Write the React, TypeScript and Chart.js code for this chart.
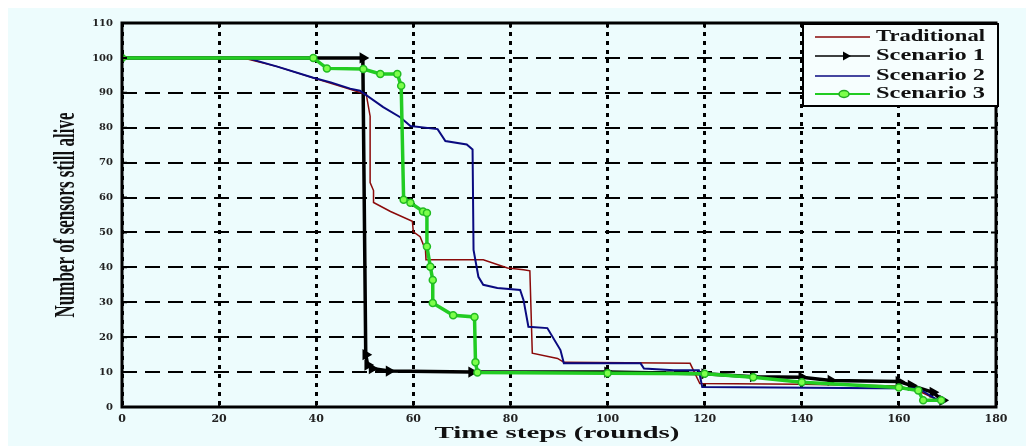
import React, { useEffect, useRef } from "react";
import { Chart, registerables } from "chart.js";

Chart.register(...registerables);

// ---- Data ----
const seriesNames = ["Traditional", "Scenario 1", "Scenario 2", "Scenario 3"];

const traditionalT = [0, 25, 32, 40, 47, 50.3, 50.4, 51.1, 51.1, 51.8, 51.8, 55.3, 59.8, 60, 61.4, 62.5, 62.6, 74.4, 79.4, 82.7, 84, 84.5, 89.7, 91, 117, 119, 140, 160, 165, 168];
const traditionalV = [100, 100, 97.5, 94, 91, 89.5, 88.8, 83.3, 64.3, 62, 58.6, 56, 53.2, 50.2, 48.8, 45, 42.2, 42.2, 39.8, 39.3, 39, 15.4, 13.9, 12.8, 12.5, 6.7, 6.5, 6, 4, 2];

const scenario1T = [0, 49.6, 50.2, 50.6, 51.5, 55, 72, 100, 120, 130, 140, 146, 160, 162.5, 167, 169];
const scenario1V = [100, 100, 15, 12, 11, 10.3, 10, 10, 9.5, 8.7, 8.5, 7.6, 7.3, 6.2, 4.2, 1.9];

const scenario2T = [0, 25.7, 32, 39.4, 43, 47, 49, 53.8, 57.3, 59.4, 65, 66.6, 71, 72.2, 72.4, 73.4, 74.4, 77.3, 82, 82.7, 83.7, 87.6, 90.3, 91, 106.8, 107.5, 113.6, 118.8, 119.5, 164, 168];
const scenario2V = [100, 100, 97.5, 94.3, 93, 91.2, 90.6, 85.9, 83, 80.5, 79.6, 76.2, 75.2, 73.8, 45, 37.3, 35, 34.1, 33.5, 30.6, 23, 22.6, 16.3, 12.5, 12.5, 11, 10.5, 10.5, 5.7, 5.3, 2];

const scenario3T = [0, 39.4, 42.2, 49.7, 53.2, 56.7, 57.5, 58, 59.4, 62, 62.8, 62.8, 63.5, 64, 64, 68.2, 72.6, 72.8, 73.2, 100, 120, 130, 140, 160, 164, 165, 168.7];
const scenario3V = [100, 100, 97, 96.8, 95.4, 95.4, 92, 59.4, 58.5, 56, 55.6, 46, 40.2, 36.4, 29.8, 26.3, 25.8, 12.8, 9.9, 9.7, 9.5, 8.5, 7.1, 5.6, 4.7, 1.9, 1.9];

const xTicks = [0, 20, 40, 60, 80, 100, 120, 140, 160, 180];
const yTicks = [0, 10, 20, 30, 40, 50, 60, 70, 80, 90, 100, 110];

const xTitle = "Time steps (rounds)";
const yTitle = "Number of sensors still alive";

const BG = "#edfcfd";
const COLORS = ["#8b0a0a", "#000000", "#0a0a80", "#22cc22"];

function pts(t: number[], v: number[]) {
  return t.map((x, i) => ({ x, y: v[i] }));
}

function stretchText(
  ctx: CanvasRenderingContext2D,
  text: string,
  x: number,
  y: number,
  targetW: number,
  font: string,
  align: "left" | "center",
  angle = 0
) {
  ctx.save();
  ctx.font = font;
  const w = ctx.measureText(text).width;
  ctx.translate(x, y);
  ctx.rotate(angle);
  ctx.scale(targetW / w, 1);
  ctx.textAlign = align;
  ctx.textBaseline = "middle";
  ctx.fillStyle = "#111";
  ctx.fillText(text, 0, 0);
  ctx.restore();
}

const decorPlugin = {
  id: "decor",
  beforeDraw(chart: any) {
    const ctx = chart.ctx;
    ctx.save();
    ctx.fillStyle = BG;
    ctx.fillRect(0, 0, chart.width, chart.height);
    ctx.restore();
  },
  afterDraw(chart: any) {
    const ctx: CanvasRenderingContext2D = chart.ctx;
    const a = chart.chartArea;
    const xs = chart.scales.x;
    const ys = chart.scales.y;
    // inward tick marks
    ctx.save();
    ctx.strokeStyle = "#000";
    ctx.lineWidth = 2;
    ctx.setLineDash([]);
    xTicks.forEach((t) => {
      const px = xs.getPixelForValue(t);
      ctx.beginPath();
      ctx.moveTo(px, a.bottom);
      ctx.lineTo(px, a.bottom - 5);
      ctx.moveTo(px, a.top);
      ctx.lineTo(px, a.top + 5);
      ctx.stroke();
    });
    yTicks.forEach((t) => {
      const py = ys.getPixelForValue(t);
      ctx.beginPath();
      ctx.moveTo(a.left, py);
      ctx.lineTo(a.left + 5, py);
      ctx.moveTo(a.right, py);
      ctx.lineTo(a.right - 5, py);
      ctx.stroke();
    });
    // frame
    ctx.lineWidth = 3;
    ctx.strokeRect(a.left, a.top, a.right - a.left, a.bottom - a.top);
    ctx.restore();

    // legend box
    const bx = 795, by = 16, bw = 195, bh = 82;
    ctx.save();
    ctx.fillStyle = "#f6fefe";
    ctx.fillRect(bx, by, bw, bh);
    ctx.strokeStyle = "#000";
    ctx.lineWidth = 2;
    ctx.strokeRect(bx, by, bw, bh);
    const rows = [29, 48, 68, 86];
    seriesNames.forEach((name, i) => {
      const ry = rows[i];
      ctx.strokeStyle = COLORS[i];
      ctx.lineWidth = i === 3 ? 2 : 1.5;
      ctx.beginPath();
      ctx.moveTo(807, ry);
      ctx.lineTo(862, ry);
      ctx.stroke();
      if (i === 1) {
        ctx.fillStyle = "#000";
        ctx.beginPath();
        ctx.moveTo(843, ry);
        ctx.lineTo(835, ry - 4.5);
        ctx.lineTo(835, ry + 4.5);
        ctx.closePath();
        ctx.fill();
      }
      if (i === 3) {
        ctx.fillStyle = "#7cff4a";
        ctx.strokeStyle = "#22aa22";
        ctx.lineWidth = 1.5;
        ctx.beginPath();
        ctx.ellipse(836, ry, 5, 3.5, 0, 0, Math.PI * 2);
        ctx.fill();
        ctx.stroke();
      }
      stretchText(ctx, name, 868, ry, 109, "bold 17px 'Liberation Serif'", "left");
    });
    ctx.restore();

    // axis titles
    stretchText(ctx, xTitle, (a.left + a.right) / 2 - 2, 426, 245, "bold 16px 'Liberation Serif'", "center");
    stretchText(ctx, yTitle, 58, 207, 205, "bold 30px 'Liberation Serif'", "center", -Math.PI / 2);
  },
};

export default function App() {
  const ref = useRef<HTMLCanvasElement | null>(null);

  useEffect(() => {
    if (!ref.current) return;
    const chart = new Chart(ref.current, {
      type: "line",
      data: {
        datasets: [
          {
            label: seriesNames[3],
            data: pts(scenario3T, scenario3V),
            borderColor: COLORS[3],
            borderWidth: 3.5,
            pointStyle: "circle",
            pointRadius: 3.5,
            pointBackgroundColor: "#7cff4a",
            pointBorderColor: "#22bb22",
            pointBorderWidth: 1.5,
            order: 0,
          },
          {
            label: seriesNames[2],
            data: pts(scenario2T, scenario2V),
            borderColor: COLORS[2],
            borderWidth: 2,
            pointRadius: 0,
            order: 1,
          },
          {
            label: seriesNames[0],
            data: pts(traditionalT, traditionalV),
            borderColor: COLORS[0],
            borderWidth: 1.5,
            pointRadius: 0,
            order: 2,
          },
          {
            label: seriesNames[1],
            data: pts(scenario1T, scenario1V),
            borderColor: COLORS[1],
            borderWidth: 3.5,
            pointStyle: "triangle",
            pointRotation: 90,
            pointRadius: 3,
            pointBackgroundColor: "#000",
            pointBorderColor: "#000",
            order: 3,
          },
        ] as any,
      },
      options: {
        animation: false,
        responsive: false,
        maintainAspectRatio: false,
        layout: { padding: { left: 0, right: 30, top: 14, bottom: 0 } },
        plugins: {
          legend: { display: false },
          tooltip: { enabled: false },
        },
        elements: { line: { tension: 0 } },
        scales: {
          x: {
            type: "linear",
            min: 0,
            max: 180,
            afterBuildTicks: (s: any) => {
              s.ticks = xTicks.map((v) => ({ value: v }));
            },
            afterFit: (s: any) => {
              s.height = 39;
            },
            grid: { color: "#000", lineWidth: 3, drawTicks: false },
            border: { display: false, dash: [4, 5] },
            ticks: {
              padding: 6,
              color: "#222",
              font: { family: "'DejaVu Serif'", size: 11, weight: "bold" },
              maxRotation: 0,
            },
          },
          y: {
            type: "linear",
            min: 0,
            max: 110,
            afterBuildTicks: (s: any) => {
              s.ticks = yTicks.map((v) => ({ value: v }));
            },
            afterFit: (s: any) => {
              s.width = 114;
            },
            grid: { color: "#000", lineWidth: 2, drawTicks: false },
            border: { display: false, dash: [15, 8] },
            ticks: {
              padding: 9,
              color: "#222",
              font: { family: "'DejaVu Serif'", size: 10, weight: "bold" },
            },
          },
        },
      } as any,
      plugins: [decorPlugin],
    });
    return () => chart.destroy();
  }, []);

  return (
    <div style={{ position: "absolute", left: 8, top: 8, width: 1018, height: 438 }}>
      <canvas ref={ref} width={1018} height={438} style={{ display: "block", width: 1018, height: 438 }} />
    </div>
  );
}
